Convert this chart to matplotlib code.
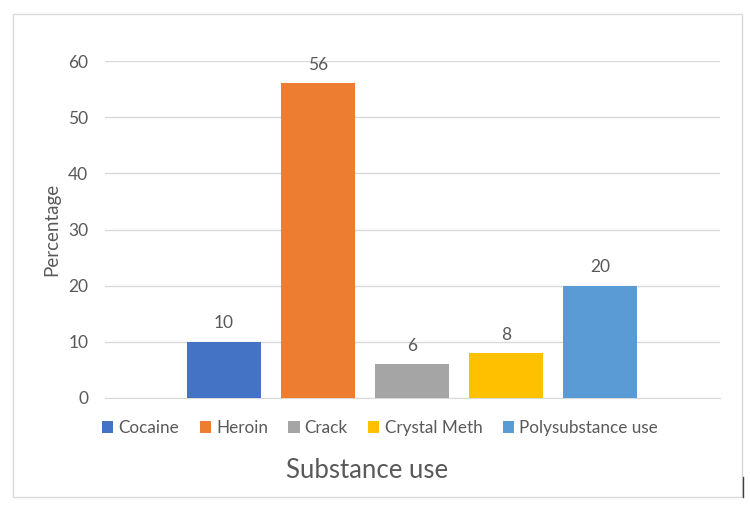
import matplotlib.pyplot as plt
from matplotlib.patches import Patch, Rectangle

plt.rcParams['font.family'] = ['Lato', 'DejaVu Sans']

substances = ['Cocaine', 'Heroin', 'Crack', 'Crystal Meth', 'Polysubstance use']
percentages = [10, 56, 6, 8, 20]
colors = ['#4472c4', '#ed7d31', '#a5a5a5', '#ffc000', '#5b9bd5']
grey = '#595959'

fig = plt.figure(figsize=(7.5, 5.07), dpi=100)
ax = fig.add_axes([105 / 750, 1 - 398 / 507, 615 / 750, 337 / 507])

x = range(len(substances))
bars = ax.bar(x, percentages, width=0.787, color=colors, zorder=3)
for b, v in zip(bars, percentages):
    ax.text(b.get_x() + b.get_width() / 2, v + 3.3, str(v), ha='center', va='center',
            fontsize=12.5, color=grey)

ax.set_xlim(-1.266, 5.277)
ax.set_ylim(0, 60)
ax.set_yticks(range(0, 61, 10))
ax.set_xticks([])
ax.tick_params(axis='y', length=0, pad=12, labelsize=12.5, labelcolor=grey)
ax.grid(axis='y', color='#d9d9d9', linewidth=1, zorder=0)
for s in ['top', 'right', 'left']:
    ax.spines[s].set_visible(False)
ax.spines['bottom'].set_color('#d9d9d9')
ax.spines['bottom'].set_zorder(0)

fig.text(52 / 750, 1 - 229 / 507, 'Percentage', rotation=90, ha='center', va='center',
         fontsize=13.5, color=grey)
fig.text(367 / 750, 1 - 471 / 507, 'Substance use', ha='center', va='center',
         fontsize=18.5, color=grey)

handles = [Patch(facecolor=c, edgecolor='none') for c in colors]
fig.legend(handles, substances, loc='center', bbox_to_anchor=(380 / 750, 1 - 428 / 507),
           ncol=5, frameon=False, fontsize=12.3, labelcolor=grey,
           handlelength=0.65, handleheight=0.65, handletextpad=0.3, columnspacing=1.2)

# outer chart border
fig.patches.append(Rectangle((13 / 750, 1 - 497 / 507), 729 / 750, 483 / 507,
                             transform=fig.transFigure, fill=False,
                             edgecolor='#d9d9d9', linewidth=1))
fig.lines.append(plt.Line2D([743 / 750, 743 / 750], [1 - 497 / 507, 1 - 477 / 507],
                            transform=fig.transFigure, color='#404040', linewidth=1))

fig.savefig('out.png', dpi=100)
